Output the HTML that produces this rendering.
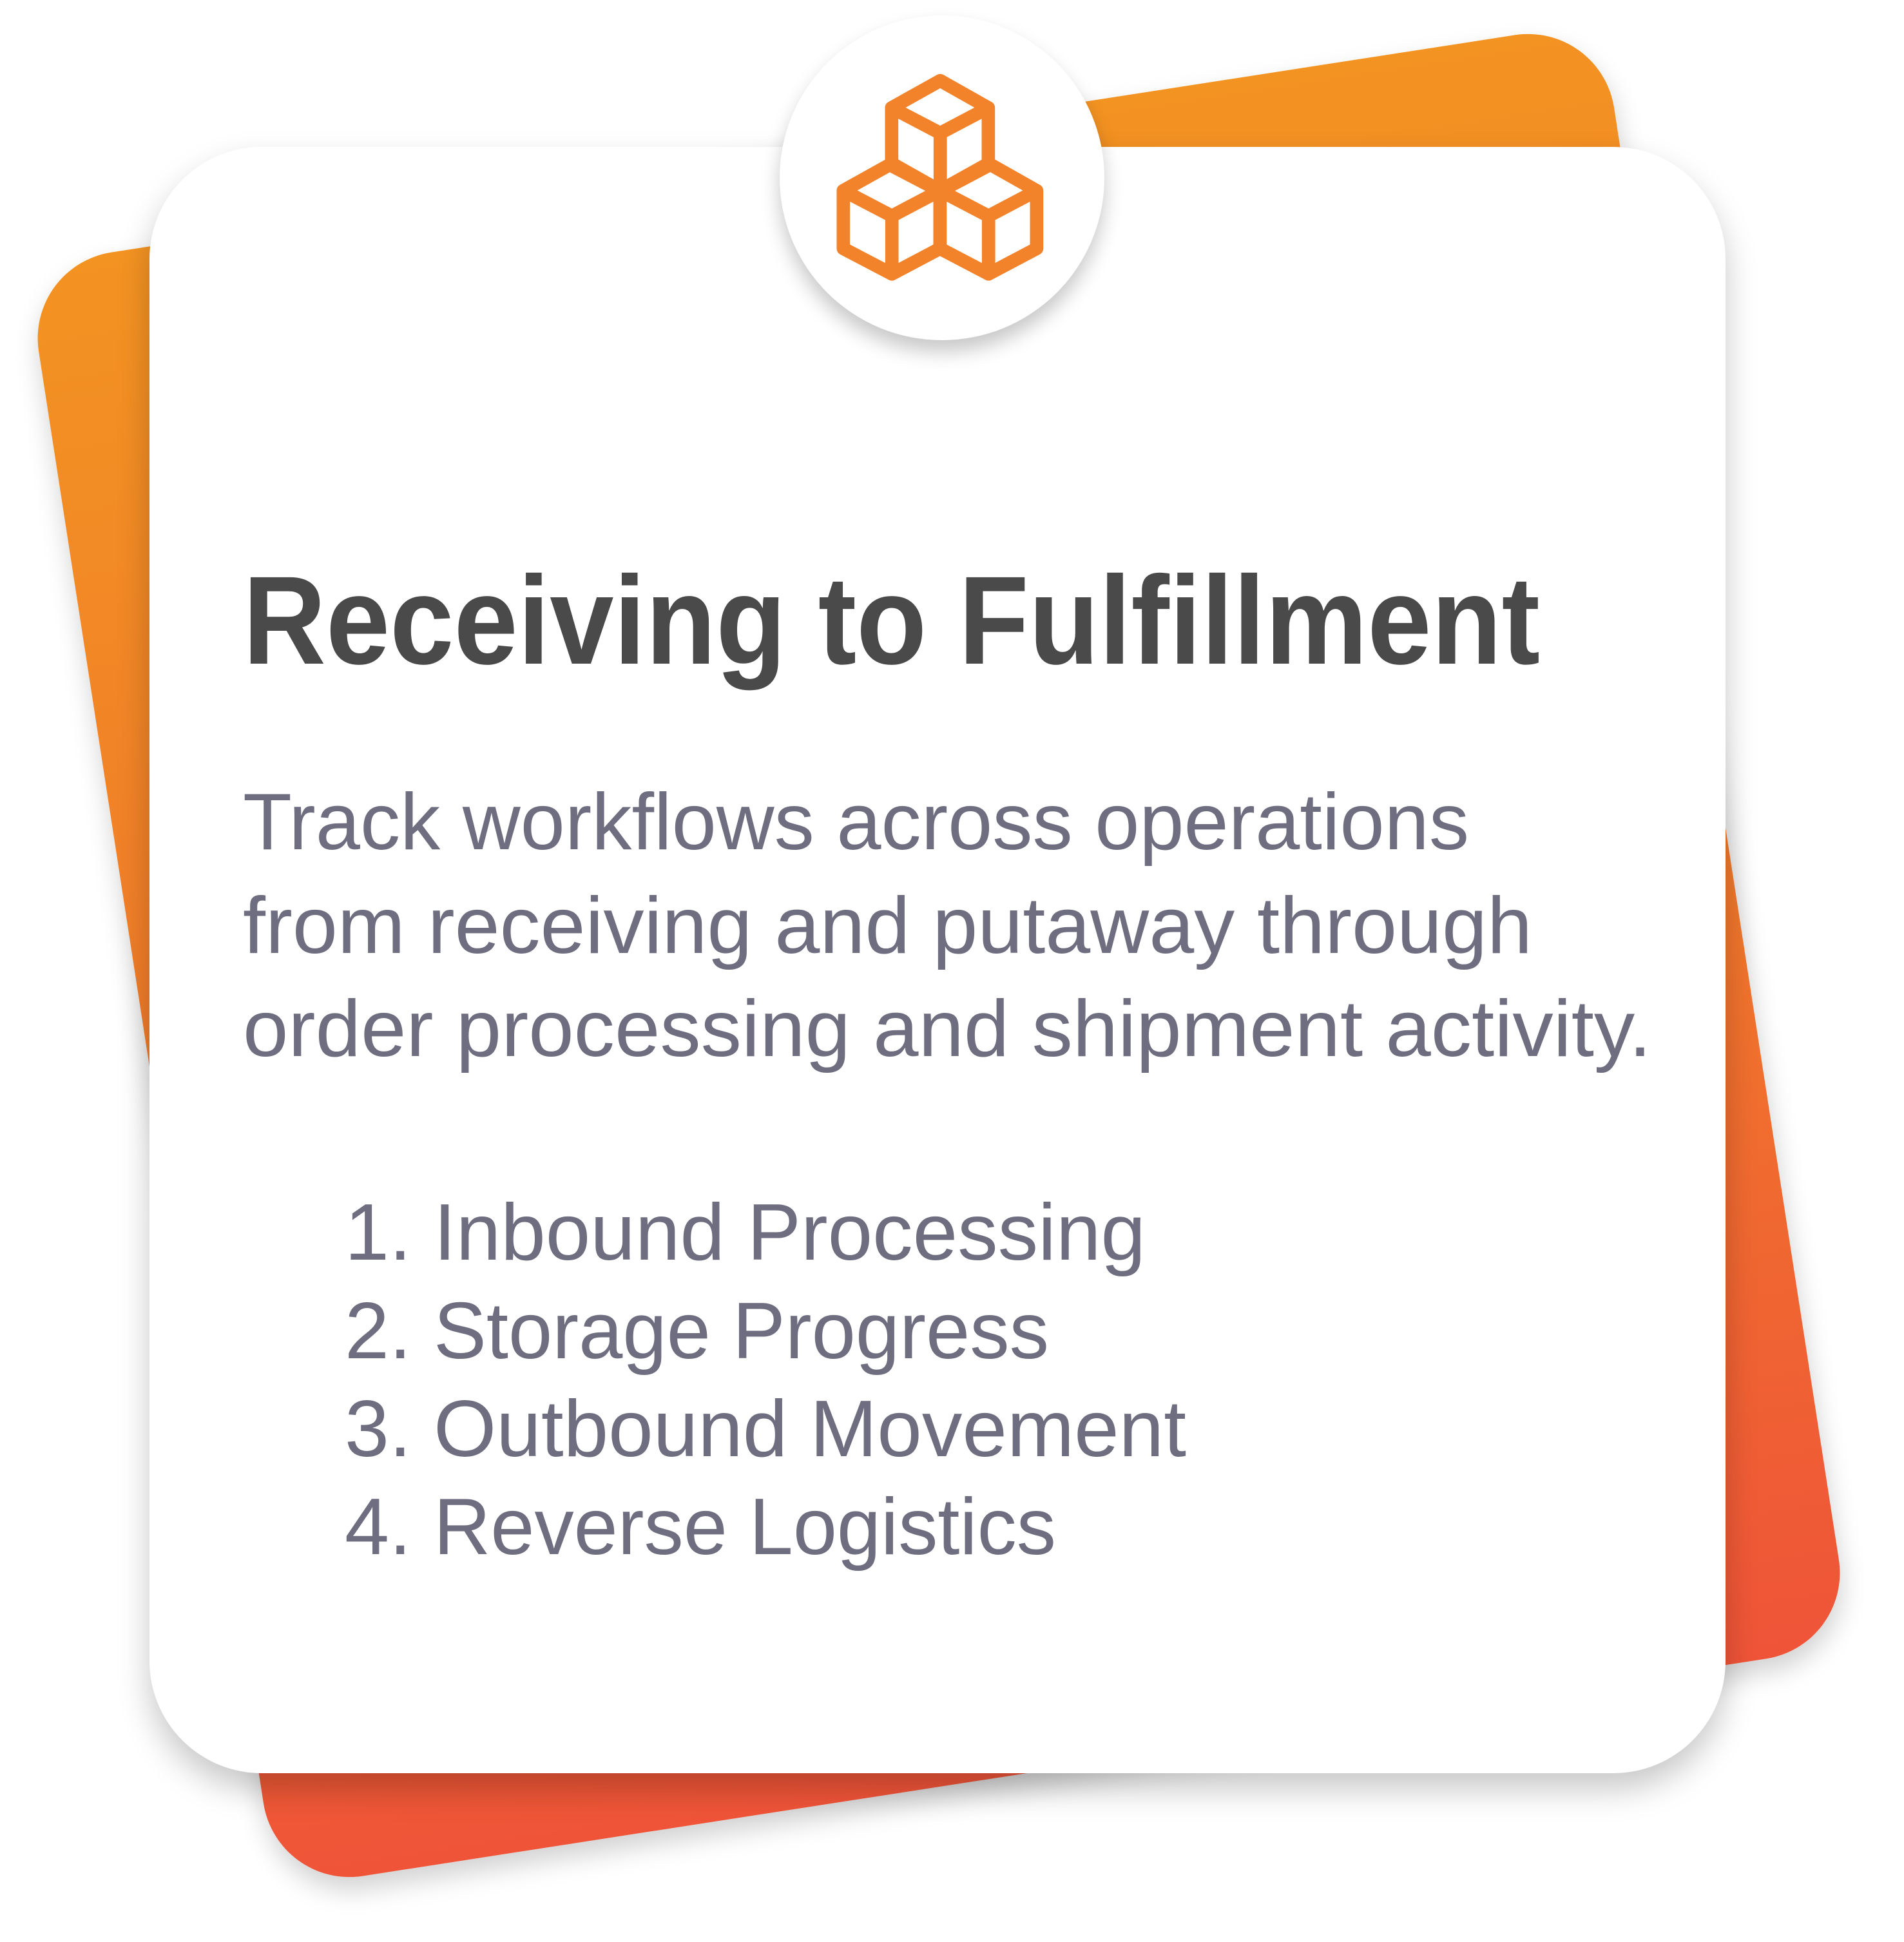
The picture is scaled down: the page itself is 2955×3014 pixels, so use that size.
<!DOCTYPE html>
<html><head><meta charset="utf-8"><style>
html,body{margin:0;padding:0;background:#fff;}
body{width:2955px;height:3014px;position:relative;overflow:hidden;}
.back{position:absolute;left:220px;top:208px;width:2474px;height:2550px;border-radius:135px;
background:linear-gradient(180deg,#F39322 0%,#F07A2A 50%,#EF5438 100%);transform:rotate(-8.8deg);
box-shadow:0 20px 40px rgba(0,0,0,0.18);}
.card{position:absolute;left:232px;top:228px;width:2446px;height:2524px;border-radius:174px;background:#fff;
box-shadow:0 25px 50px rgba(0,0,0,0.22);}
.circ{position:absolute;left:1210px;top:24px;width:504px;height:504px;border-radius:50%;background:#fff;
box-shadow:0 18px 30px rgba(0,0,0,0.22);}
svg{position:absolute;left:0;top:0;}
</style></head><body>
<div class="back"></div>
<div class="card"></div>
<div class="circ"></div>
<svg width="2955" height="3014" viewBox="0 0 2955 3014">
<g transform="translate(1150,0) scale(0.3827)" fill="none" stroke="#F2832B" stroke-width="54" stroke-linejoin="round" stroke-linecap="round">
<path d="M808,327 L1003,437 L1003,672 L808,775 L611,672 L611,437 Z M611,437 L808,540 L1003,437 M808,540 V775"/>
<g transform="translate(-196,336)"><path d="M808,327 L1003,437 L1003,672 L808,775 L611,672 L611,437 Z M611,437 L808,540 L1003,437 M808,540 V775"/></g>
<g transform="translate(196,336)"><path d="M808,327 L1003,437 L1003,672 L808,775 L611,672 L611,437 Z M611,437 L808,540 L1003,437 M808,540 V775"/></g>
</g>
<g font-family="Liberation Sans, sans-serif">
<text x="377" y="1030" font-size="195" font-weight="bold" fill="#4a4a4a" textLength="2013" lengthAdjust="spacingAndGlyphs">Receiving to Fulfillment</text>
<g font-size="124" fill="#6e6e80">
<text x="377" y="1318" textLength="1903" lengthAdjust="spacingAndGlyphs">Track workflows across operations</text>
<text x="377" y="1479" textLength="2001" lengthAdjust="spacingAndGlyphs">from receiving and putaway through</text>
<text x="377" y="1639" textLength="2186" lengthAdjust="spacingAndGlyphs">order processing and shipment activity.</text>
<text x="535" y="1955">1.</text>
<text x="673" y="1955" textLength="1105" lengthAdjust="spacingAndGlyphs">Inbound Processing</text>
<text x="535" y="2108">2.</text>
<text x="673" y="2108" textLength="955" lengthAdjust="spacingAndGlyphs">Storage Progress</text>
<text x="535" y="2260">3.</text>
<text x="673" y="2260" textLength="1168" lengthAdjust="spacingAndGlyphs">Outbound Movement</text>
<text x="535" y="2412">4.</text>
<text x="673" y="2412" textLength="966" lengthAdjust="spacingAndGlyphs">Reverse Logistics</text>
</g>
</g>
</svg>
</body></html>
